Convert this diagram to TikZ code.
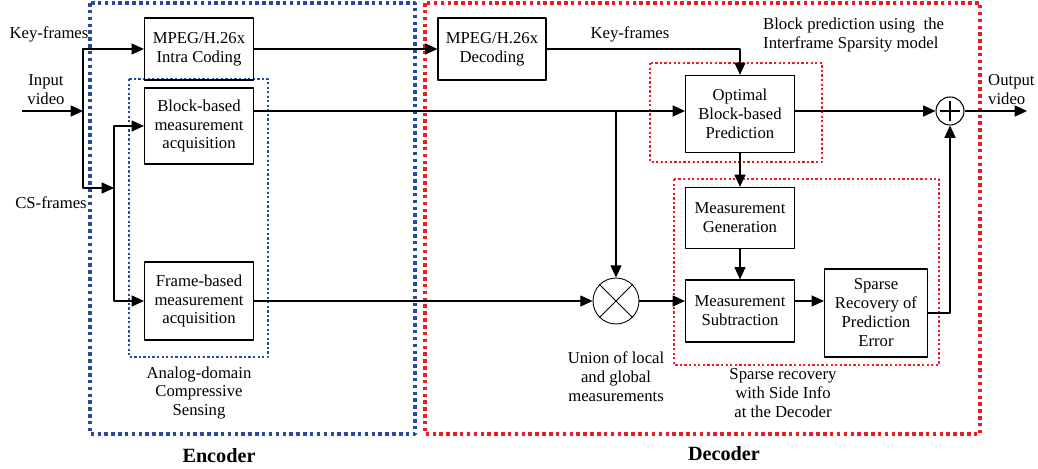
\documentclass[tikz,border=0pt]{standalone}
\usepackage{fontspec}
\setmainfont{Liberation Serif}
\usetikzlibrary{arrows.meta}
\definecolor{encblue}{RGB}{40,72,165}
\definecolor{decred}{RGB}{236,28,36}
\begin{document}
\begin{tikzpicture}[x=0.02cm,y=-0.02cm,>={Triangle[length=7pt,width=6.3pt]}, font=\fontsize{9.5}{10.8}\selectfont, line join=round,
	blk/.style={draw, line width=0.7pt, align=center, inner sep=0pt, minimum width=2.18cm},
	lbl/.style={align=center},
	bold/.style={font=\fontsize{11.5}{13}\selectfont\bfseries},
	wire/.style={->, line width=0.6pt},
	bigdots/.style={line width=2pt, dash pattern=on 2pt off 1.9pt},
	smalldots/.style={line width=1.3pt, dash pattern=on 1.3pt off 1.3pt}]
				\useasboundingbox (0,0) rectangle (1038,469);
				\draw[encblue,bigdots] (90,3) rectangle (415,434);
				\draw[encblue,smalldots] (129,79) rectangle (268,357);
				\draw[decred,bigdots] (425,3) rectangle (980,434);
				\draw[decred,smalldots] (650,63) rectangle (822,162);
				\draw[decred,smalldots] (674,179) rectangle (939,365);
				\node[blk, minimum height=1.24cm] (intra) at (199,49) {MPEG/H.26x\\Intra Coding};
				\node[blk, minimum height=1.52cm] (blk) at (199,126) {Block-based\\measurement\\acquisition};
				\node[blk, minimum height=1.56cm] (frm) at (199,301) {Frame-based\\measurement\\acquisition};
				\node[blk, minimum height=1.24cm, minimum width=2.16cm] (dec) at (492,49) {MPEG/H.26x\\Decoding};
				\node[blk, minimum height=1.54cm] (opt) at (740,114) {Optimal\\Block-based\\Prediction};
				\node[blk, minimum height=1.22cm] (gen) at (740,218) {Measurement\\Generation};
				\node[blk, minimum height=1.24cm] (sub) at (740,311) {Measurement\\Subtraction};
				\node[blk, minimum height=1.76cm, minimum width=2.06cm] (spr) at (876,313) {Sparse\\Recovery of\\Prediction\\Error};
				\node[draw, circle, line width=0.5pt, minimum size=0.92cm] (cross) at (616,301) {};
				\draw[line width=0.5pt] (cross.north east)--(cross.south west) (cross.north west)--(cross.south east);
				\node[draw, circle, line width=0.6pt, minimum size=0.56cm] (add) at (950,111) {};
				\draw[line width=0.6pt] ([yshift=-2.5pt]add.north)--([yshift=2.5pt]add.south) ([xshift=2.5pt]add.west)--([xshift=-2.5pt]add.east);
				\node (kf) at (49,34) {Key-frames};
				\node[lbl] (iv) at (46,90) {Input\\video};
				\node (cs) at (51,203) {CS-frames};
				\node[lbl] (acs) at (199,393) {Analog-domain\\Compressive\\Sensing};
				\node[bold] (enc) at (219,456) {Encoder};
				\node (kf2) at (630,34) {Key-frames};
				\node[align=left, anchor=west] (bp) at (757,35) {Block prediction using~ the\\Interframe Sparsity model};
				\node[align=left, anchor=west] (ov) at (982,90) {Output\\video};
				\node[lbl] (un) at (616,377) {Union of local\\and global\\measurements};
				\node[lbl] (sr) at (783,393) {Sparse recovery\\with Side Info\\at the Decoder};
				\node[bold] (dcd) at (724,454) {Decoder};
				\coordinate (in) at (22,111); \coordinate (j) at (83,111);
				\coordinate (k) at (114,188); \coordinate (out) at (1027,111);
				\draw[wire] (in)--(j);
				\draw[wire] (j) |- (intra.west);
				\draw[wire] (j) |- (k);
				\draw[wire] (k) |- (blk.west);
				\draw[wire] (k) |- (frm.west);
				\draw[wire] (intra)--(dec);
				\draw[wire] (dec.east) -| (opt.north);
				\draw[wire] (blk.east |- add)--(opt.west |- add);
				\draw[wire] (opt.east |- add)--(add.west);
				\draw[wire] (add.east)--(out);
				\draw[wire] (cross.north |- add)--(cross.north);
				\draw[wire] (frm.east)--(cross.west);
				\draw[wire] (cross.east)--(cross.east -| sub.west);
				\draw[wire] (opt)--(gen);
				\draw[wire] (gen)--(sub);
				\draw[wire] (sub.east |- cross)--(spr.west |- cross);
				\draw[wire] (spr.east) -| (add.south);
			\end{tikzpicture}
\end{document}
